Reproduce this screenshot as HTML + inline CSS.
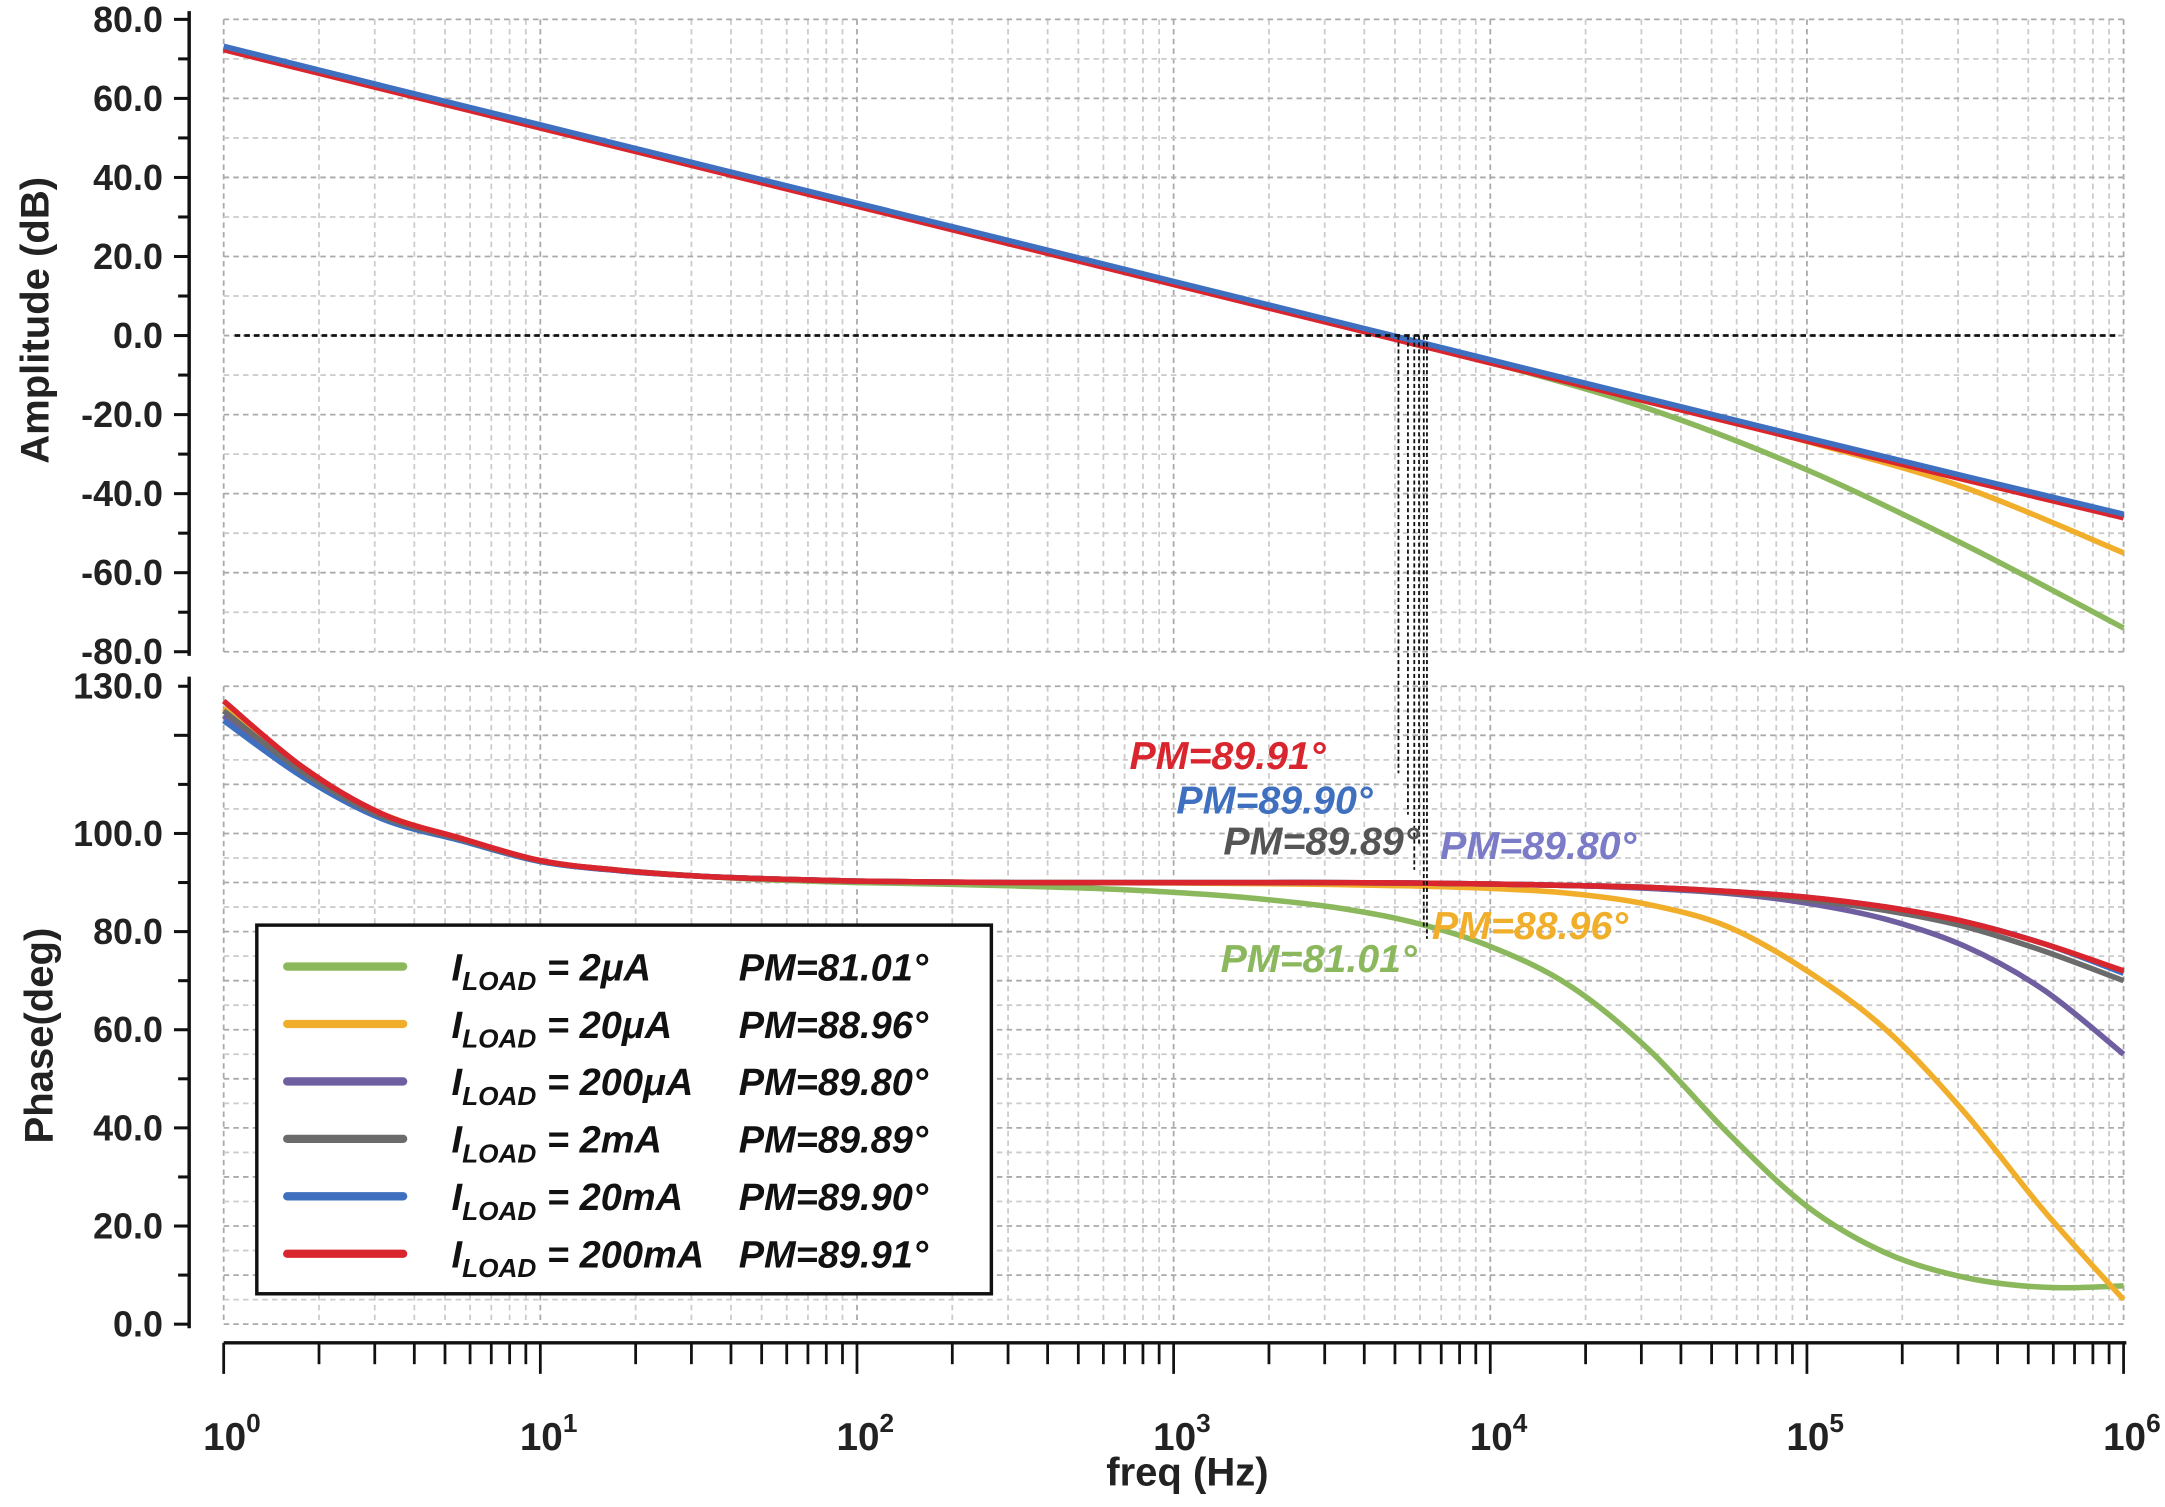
<!DOCTYPE html>
<html><head><meta charset="utf-8"><style>
html,body{margin:0;padding:0;background:#fff}
svg{display:block;font-family:"Liberation Sans",Arial,sans-serif}
</style></head><body>
<svg id="chart" width="2165" height="1507" viewBox="0 0 1568 1091.4" xmlns="http://www.w3.org/2000/svg">
<g id="grid"></g>
<g id="axes"></g>
<g id="series"></g>
<g id="annot"></g>
<text x="0" y="0" transform="translate(35,232) rotate(-90)" text-anchor="middle" font-size="29" font-weight="bold" fill="#222">Amplitude (dB)</text>
<text x="0" y="0" transform="translate(38,750) rotate(-90)" text-anchor="middle" font-size="29" font-weight="bold" fill="#222">Phase(deg)</text>
<text x="860" y="1076" text-anchor="middle" font-size="29" font-weight="bold" fill="#222">freq (Hz)</text>
<g id="legend">
<rect x="186" y="670" width="532" height="267" fill="#fff" stroke="#111" stroke-width="2.5"/>
</g>
</svg>
<script>
const ampLogF = [0,0.5,1,1.5,2,2.5,3,3.5,4,4.5,5,5.5,6];
const ampGreen = [72.5,62.6,52.8,42.9,33.0,23.1,13.2,3.3,-6.8,-18.5,-34,-53,-74];
const ampYellow = [72.5,62.6,52.8,42.9,33.0,23.1,13.2,3.3,-6.6,-16.6,-26.8,-38.5,-55];
const ampPurple = [72.7,62.8,52.9,43.0,33.1,23.2,13.3,3.4,-6.5,-16.4,-26.3,-36.0,-45.6];
const ampGrey = [72.7,62.8,52.9,43.0,33.1,23.2,13.3,3.4,-6.5,-16.4,-26.3,-36.0,-45.6];
const ampBlue = [73.2,63.2,53.3,43.4,33.5,23.6,13.7,3.8,-6.1,-16.0,-25.9,-35.6,-45.2];
const ampRed = [72.3,62.4,52.5,42.6,32.7,22.8,12.9,3.0,-6.9,-16.8,-26.7,-36.5,-46.1];
const phLogF = [0,0.25,0.5,0.75,1,1.25,1.5,1.75,2,2.25,2.5,2.75,3,3.25,3.5,3.75,4,4.25,4.5,4.75,5,5.25,5.5,5.75,6];
const phGreen = [125,113,103.8,98.8,94.4,92.5,91.3,90.5,90,89.7,89.3,88.8,88,86.8,85,82,77,69,56,39,24,14.5,9.5,7.5,7.8];
const phYellow = [125.5,113,104,98.9,94.4,92.5,91.3,90.7,90.3,90.1,90,90,89.9,89.8,89.6,89.3,88.8,87.8,85.5,81,72,60,43,23,5];
const phPurple = [124,112,103.3,98.6,94.3,92.4,91.3,90.7,90.3,90.1,90,90,90,90,90,89.9,89.7,89.4,88.8,87.8,85.8,82.5,77,68,55];
const phGrey = [125,112.5,103.5,98.8,94.4,92.5,91.3,90.7,90.3,90.1,90,90,90,90,90,89.9,89.7,89.4,89,88,86.5,84.3,81,76,70];
const phBlue = [123,111.5,103,98.5,94.3,92.4,91.3,90.7,90.3,90.1,90,90,90,90,90,89.9,89.7,89.4,89,88.2,87,85,82,77.5,71.5];
const phRed = [127,113.5,104,99,94.5,92.5,91.3,90.7,90.3,90.1,90,90,90,90,90,89.9,89.7,89.4,89,88.2,87,85,82,77.5,72];
const seriesNames = ["2uA","20uA","200uA","2mA","20mA","200mA"];
const seriesColors = ["#8bb85c","#f0ae2a","#6f5fa0","#6b6b6b","#3f6fbf","#d9262e"];
const legendLoads = ["2μA","20μA","200μA","2mA","20mA","200mA"];
const pmLabels = ["PM=81.01°","PM=88.96°","PM=89.80°","PM=89.89°","PM=89.90°","PM=89.91°"];
const pmLabelColors = ["#8bb85c","#f0ae2a","#7b7bc8","#555555","#3f6fbf","#d9262e"];
const pmCrossLog = [3.80,3.79,3.775,3.76,3.74,3.71];
const ampTicks = [80,60,40,20,0,-20,-40,-60,-80];
const phTicks = [130,100,80,60,40,20,0];

const NS="http://www.w3.org/2000/svg";
function mk(tag,attrs,parent,text){const e=document.createElementNS(NS,tag);for(const k in attrs)e.setAttribute(k,attrs[k]);if(text!==undefined)e.textContent=text;parent.appendChild(e);return e;}
const X0=162,X1=1538;
const xs=l=>X0+(X1-X0)*l/6;
const yA=v=>14+(80-v)*(472-14)/160;
const yP=v=>497+(130-v)*(959-497)/130;
const grid=document.getElementById('grid'),axes=document.getElementById('axes'),ser=document.getElementById('series'),ann=document.getElementById('annot');

for(let d=0;d<6;d++){for(let m=1;m<=9;m++){const x=xs(d+Math.log10(m));const c=m===1?'#aaa':'#ccc';
 const g1=mk('line',{x1:x,x2:x,y1:14,y2:472,stroke:c,'stroke-width':1.3,'stroke-dasharray':'4 3'},grid);
 
 const g2=mk('line',{x1:x,x2:x,y1:497,y2:959,stroke:c,'stroke-width':1.3,'stroke-dasharray':'4 3'},grid);
 }}
mk('line',{x1:X1,x2:X1,y1:14,y2:472,stroke:'#aaa','stroke-width':1.3,'stroke-dasharray':'4 3'},grid);
mk('line',{x1:X1,x2:X1,y1:497,y2:959,stroke:'#aaa','stroke-width':1.3,'stroke-dasharray':'4 3'},grid);
for(let v=-80;v<=80;v+=10){const y=yA(v);const l=mk('line',{x1:X0,x2:X1,y1:y,y2:y,stroke:v%20===0?'#aaa':'#ccc','stroke-width':1.3,'stroke-dasharray':'4 3'},grid);
 }
for(let v=0;v<=130;v+=5){const y=yP(v);const l=mk('line',{x1:X0,x2:X1,y1:y,y2:y,stroke:v%10===0?'#aaa':'#ccc','stroke-width':1.3,'stroke-dasharray':'4 3'},grid);
 }

mk('line',{x1:137,x2:137,y1:8,y2:475,stroke:'#111','stroke-width':2.5},axes);
mk('line',{x1:137,x2:137,y1:490,y2:962,stroke:'#111','stroke-width':2.5},axes);
for(let v=-80;v<=80;v+=10){const y=yA(v);mk('line',{x1:v%20===0?126:129,x2:137,y1:y,y2:y,stroke:'#111','stroke-width':2.2},axes);}
for(let v=0;v<=130;v+=10){const y=yP(v);mk('line',{x1:v%20===0?126:129,x2:137,y1:y,y2:y,stroke:'#111','stroke-width':2.2},axes);}
ampTicks.forEach(v=>{const t=mk('text',{x:118,y:yA(v)+9,'text-anchor':'end','font-size':26,'font-weight':'bold',fill:'#222'},axes,v.toFixed(1));
 });
phTicks.forEach(v=>{const t=mk('text',{x:118,y:yP(v)+9,'text-anchor':'end','font-size':26,'font-weight':'bold',fill:'#222'},axes,v.toFixed(1));
 });
mk('line',{x1:X0,x2:1540,y1:972.5,y2:972.5,stroke:'#111','stroke-width':2.5},axes);
for(let d=0;d<=6;d++){for(let m=1;m<=9;m++){if(d===6&&m>1)break;const x=xs(d+Math.log10(m));
 mk('line',{x1:x,x2:x,y1:972.5,y2:m===1?995:988,stroke:'#111','stroke-width':2},axes);}
 const t=mk('text',{x:xs(d)+6,y:1050,'text-anchor':'middle','font-size':28,'font-weight':'bold',fill:'#222'},axes);
 
 t.appendChild(document.createTextNode('10'));mk('tspan',{dy:-13,'font-size':19},t,String(d));}

mk('line',{x1:170,x2:1532,y1:yA(0),y2:yA(0),stroke:'#111','stroke-width':2,'stroke-dasharray':'4 3'},ann);
const pmEnd=[680,672,612,630,590,560];
pmCrossLog.forEach((l,i)=>{const ln=mk('line',{x1:xs(l),x2:xs(l),y1:yA(0),y2:pmEnd[i],stroke:'#111','stroke-width':1.3,'stroke-dasharray':'3 2'},ann);
 });

function path(lx,vals,yf){const P=lx.map((l,i)=>[xs(l),yf(vals[i])]);let d='M'+P[0][0].toFixed(1)+','+P[0][1].toFixed(1);
 for(let i=0;i<P.length-1;i++){const p0=P[Math.max(i-1,0)],p1=P[i],p2=P[i+1],p3=P[Math.min(i+2,P.length-1)];
  const c1=[p1[0]+(p2[0]-p0[0])/6,p1[1]+(p2[1]-p0[1])/6],c2=[p2[0]-(p3[0]-p1[0])/6,p2[1]-(p3[1]-p1[1])/6];
  d+=' C'+c1.map(v=>v.toFixed(1)).join(',')+' '+c2.map(v=>v.toFixed(1)).join(',')+' '+p2[0].toFixed(1)+','+p2[1].toFixed(1);}
 return d;}
const ampSets=[ampGreen,ampYellow,ampPurple,ampGrey,ampBlue,ampRed];
const phSets=[phGreen,phYellow,phPurple,phGrey,phBlue,phRed];
[0,1,2,3,5,4].forEach(i=>{const p=mk('path',{d:path(ampLogF,ampSets[i],yA),fill:'none',stroke:seriesColors[i],'stroke-width':4,'stroke-linejoin':'round'},ser);
 });
[0,1,2,4,3,5].forEach(i=>{const p=mk('path',{d:path(phLogF,phSets[i],yP),fill:'none',stroke:seriesColors[i],'stroke-width':4,'stroke-linejoin':'round'},ser);
 });

const pmPos=[[884,704],[1037,680],[1043,622],[886,619],[852,589],[818,557]];
pmLabels.forEach((s,i)=>{const t=mk('text',{x:pmPos[i][0],y:pmPos[i][1],'font-size':28.5,'font-weight':'bold','font-style':'italic',fill:pmLabelColors[i]},ann,s);
 });

const lg=document.getElementById('legend');
legendLoads.forEach((s,i)=>{const y=700+i*41.6;
 const l=mk('line',{x1:208,x2:292,y1:y,y2:y,stroke:seriesColors[i],'stroke-width':6,'stroke-linecap':'round'},lg);
 
 const t=mk('text',{x:327,y:y+10,'font-size':27.5,'font-weight':'bold','font-style':'italic',fill:'#111'},lg);
 
 t.appendChild(document.createTextNode('I'));mk('tspan',{'font-size':19,dy:7},t,'LOAD');mk('tspan',{dy:-7},t,' = '+s);
 const p=mk('text',{x:535,y:y+10,'font-size':27.5,'font-weight':'bold','font-style':'italic',fill:'#111'},lg,pmLabels[i]);
 });
</script>
</body></html>
